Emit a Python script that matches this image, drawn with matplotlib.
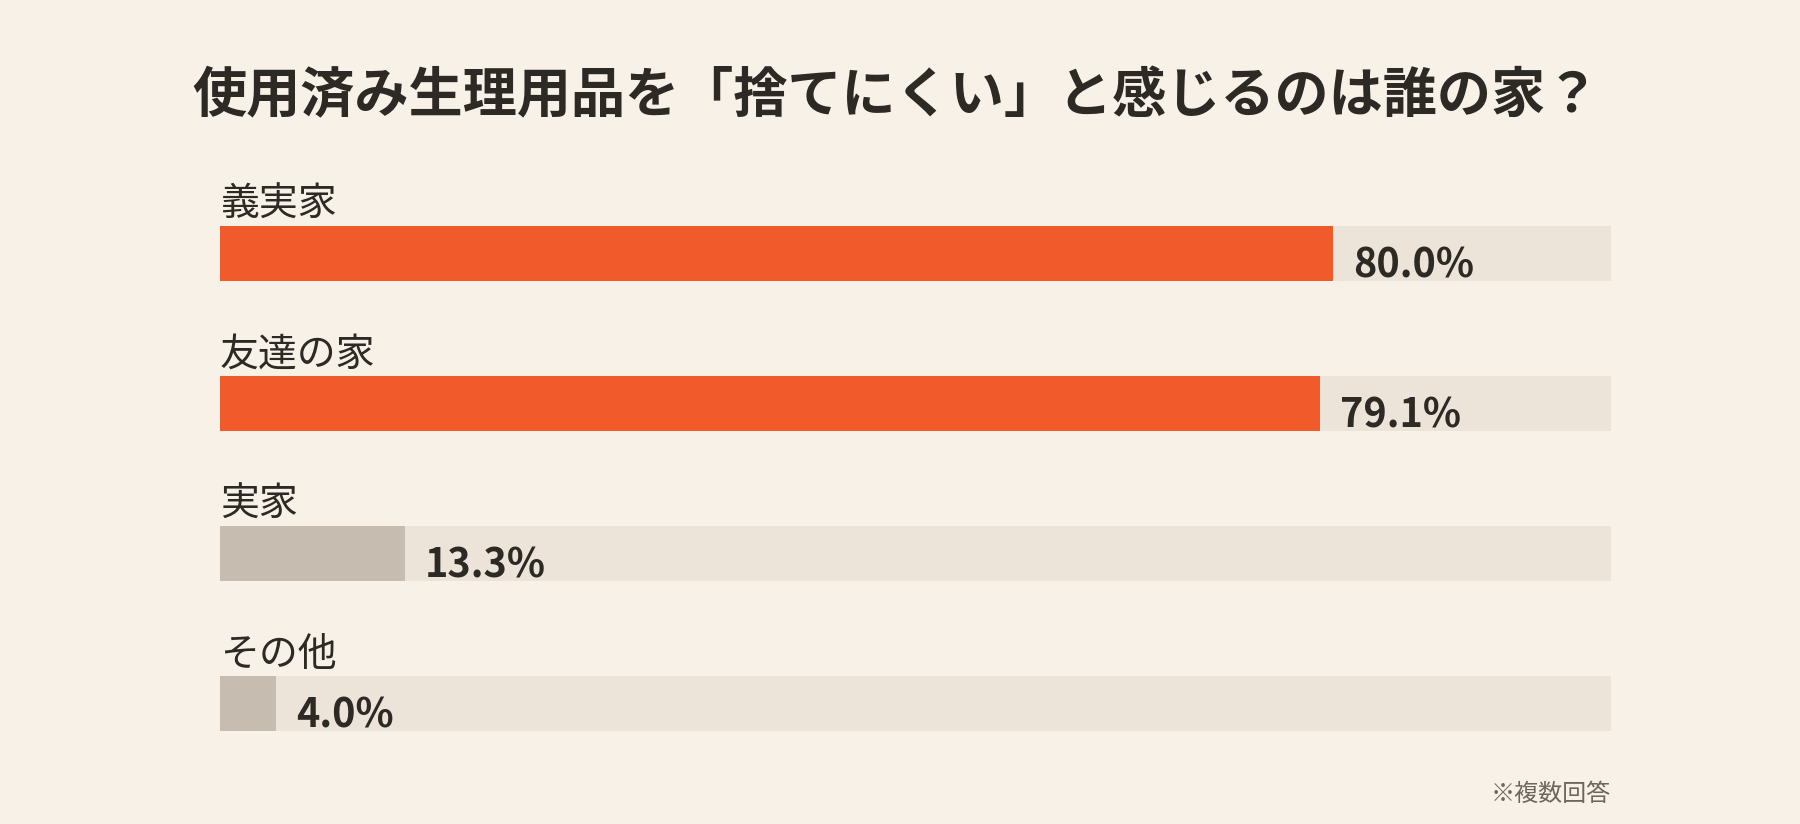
import matplotlib
matplotlib.use("Agg")
import matplotlib.pyplot as plt

# データ
categories = ["義実家", "友達の家", "実家", "その他"]
values = [80.0, 79.1, 13.3, 4.0]
highlight = [True, True, False, False]
title = "使用済み生理用品を「捨てにくい」と感じるのは誰の家？"
note = "※複数回答"

# 色
bg = "#f8f1e8"
track = "#ece4d8"
orange = "#f15b2c"
grey = "#c6bdb0"
dark = "#2d2925"

plt.rcParams['font.family'] = ['Noto Sans CJK JP', 'DejaVu Sans']

W, H = 1800, 824
fig = plt.figure(figsize=(W / 100, H / 100), dpi=100)
fig.patch.set_facecolor(bg)

# 軸はピクセル位置で配置 (左220px, 右1611px, 上100px, 下800px)
ax = fig.add_axes([220 / W, 1 - 800 / H, (1611 - 220) / W, 700 / H])
ax.set_facecolor(bg)
ax.set_xlim(0, 100)
row = 150.0
bh = 55 / row
ax.set_ylim(3 + (800 - 703.5) / row, -(253.5 - 100) / row)
ax.axis("off")

for i, (cat, v) in enumerate(zip(categories, values)):
    ax.barh(i, 100, height=bh, color=track, linewidth=0)
    ax.barh(i, v, height=bh, color=orange if highlight[i] else grey, linewidth=0)
    ax.text(0, i - bh / 2 - 10 / row, cat, fontsize=28, color=dark,
            ha="left", va="baseline")
    ax.text(v + 20 * 100 / 1391, i + bh / 2 - 3 / row, f"{v:.1f}%",
            fontsize=28.5, fontweight="bold", color=dark, ha="left", va="baseline")

fig.text(896 / W, 1 - 112 / H, title, fontsize=39, fontweight="bold",
         color=dark, ha="center", va="baseline")
fig.text(1611 / W, 1 - 801 / H, note, fontsize=17.3, color="#6e665e",
         ha="right", va="baseline")

fig.savefig("out.png", dpi=100, facecolor=bg)
